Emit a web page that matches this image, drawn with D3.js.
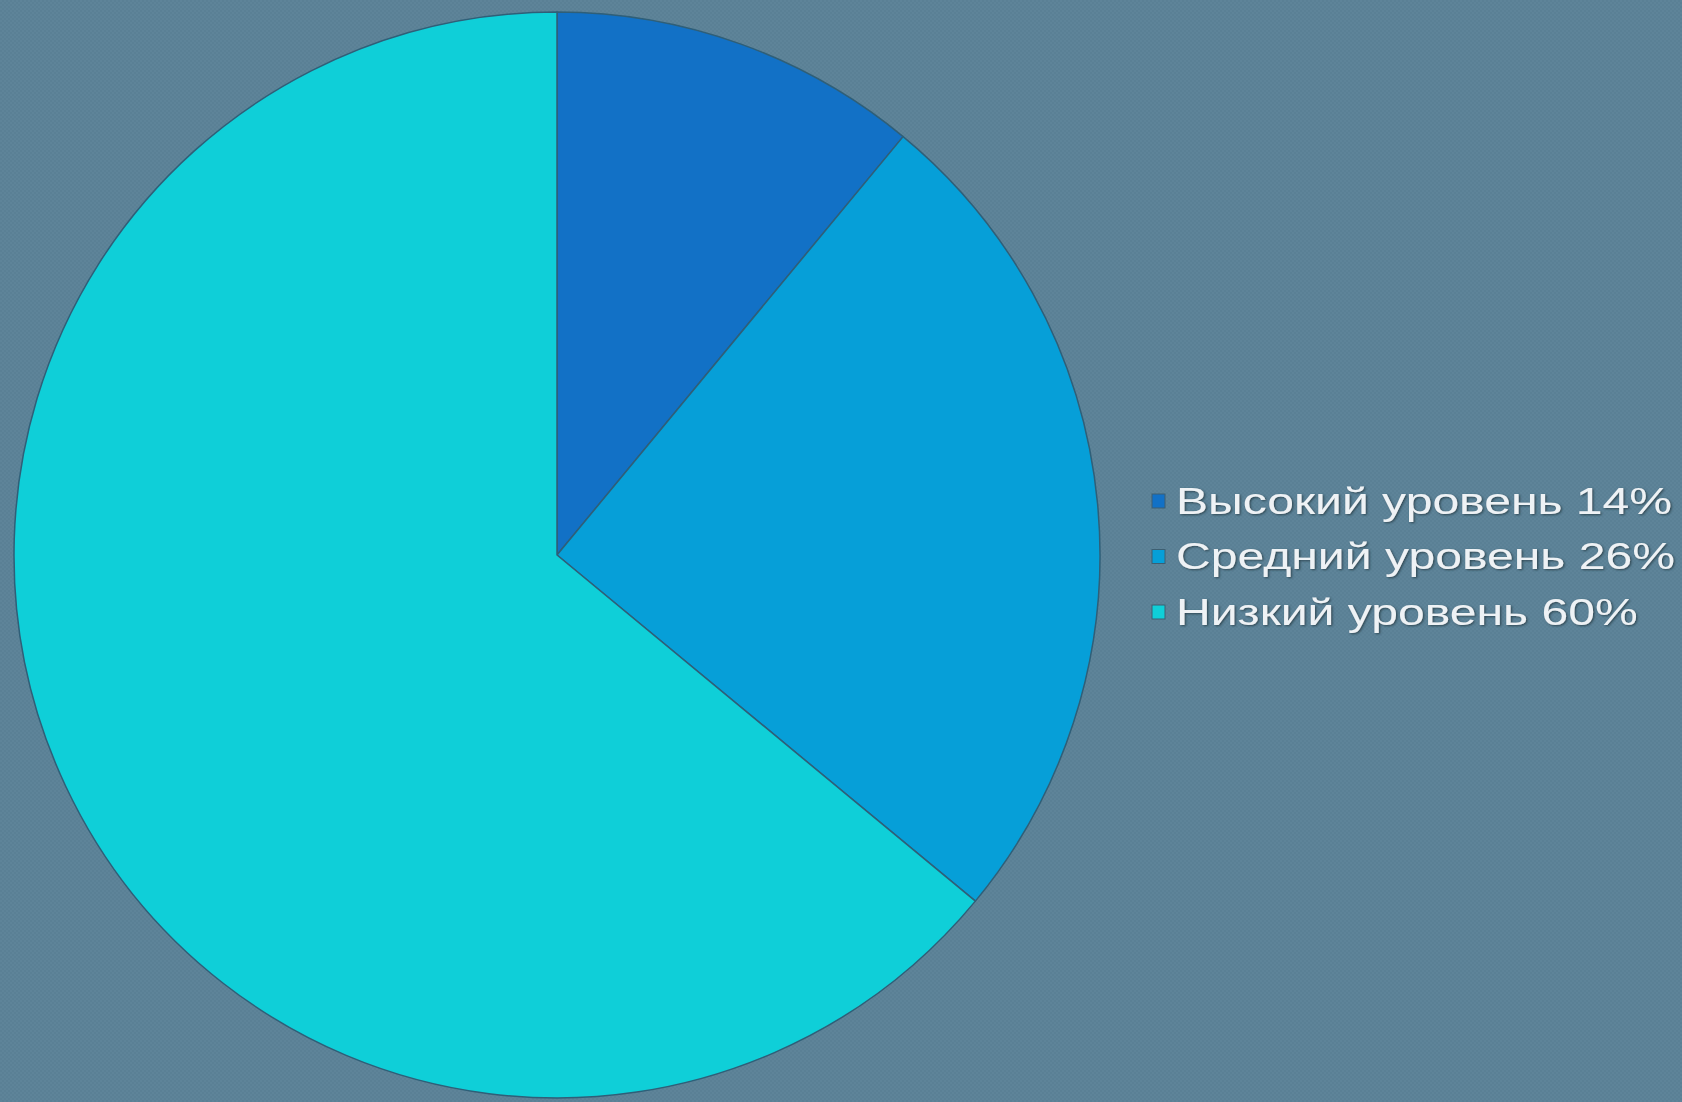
<!DOCTYPE html>
<html>
<head>
<meta charset="utf-8">
<script src="https://cdn.jsdelivr.net/npm/d3@7"></script>
<style>
  html, body { margin: 0; padding: 0; background: #5a8095; overflow: hidden; }
  svg { display: block; }
</style>
</head>
<body>
<script>
// slice sizes as drawn in the picture (the legend texts carry their own numbers)
const categories = ["Высокий", "Средний", "Низкий"];
const values = [11, 25, 64];
const legendLabels = ["Высокий уровень 14%", "Средний уровень 26%", "Низкий уровень 60%"];
const colors = ["#1271c6", "#069fd8", "#0fcfd8"];

const width = 1682;
const height = 1102;
const cx = 557, cy = 555, radius = 543;

const svg = d3.select("body")
  .append("svg")
  .attr("width", width)
  .attr("height", height);

// faint checker texture of the background
const defs = svg.append("defs");
const pat = defs.append("pattern")
  .attr("id", "checker")
  .attr("width", 4).attr("height", 4)
  .attr("patternUnits", "userSpaceOnUse");
pat.append("rect").attr("width", 4).attr("height", 4).attr("fill", "#5a8095");
pat.append("rect").attr("width", 2).attr("height", 2).attr("fill", "#5e8499");
pat.append("rect").attr("x", 2).attr("y", 2).attr("width", 2).attr("height", 2).attr("fill", "#5e8499");

const shadow = defs.append("filter").attr("id", "txtShadow")
  .attr("x", "-5%").attr("y", "-20%").attr("width", "110%").attr("height", "140%");
shadow.append("feDropShadow")
  .attr("dx", 1).attr("dy", 1).attr("stdDeviation", 1)
  .attr("flood-color", "#2a3f4c").attr("flood-opacity", 0.9);

svg.append("rect")
  .attr("width", width).attr("height", height)
  .attr("fill", "url(#checker)");

const color = d3.scaleOrdinal().domain(categories).range(colors);

const pie = d3.pie().sort(null).value(d => d.value);
const arc = d3.arc().innerRadius(0).outerRadius(radius);

const data = categories.map((c, i) => ({ name: c, value: values[i] }));

const g = svg.append("g")
  .attr("transform", `translate(${cx},${cy})`);

g.selectAll("path")
  .data(pie(data))
  .enter()
  .append("path")
  .attr("d", arc)
  .attr("fill", d => color(d.data.name))
  .attr("stroke", "#2f5f78")
  .attr("stroke-width", 1.5)
  .attr("stroke-linejoin", "round");

// legend
const legendY = d3.scalePoint()
  .domain(categories)
  .range([501, 612]);

const legend = svg.append("g");

const item = legend.selectAll("g")
  .data(categories)
  .enter()
  .append("g")
  .attr("transform", d => `translate(1152,${legendY(d)})`);

item.append("rect")
  .attr("x", 0).attr("y", -7)
  .attr("width", 13).attr("height", 14)
  .attr("fill", d => color(d))
  .attr("stroke", "#3d5f72")
  .attr("stroke-width", 1);

// the legend text in the picture is drawn wide, so stretch it sideways
item.append("g")
  .attr("transform", "translate(24,0) scale(1.3,1)")
  .append("text")
  .attr("x", 0)
  .attr("y", 0)
  .attr("dy", "0.35em")
  .attr("fill", "#eef2f5")
  .attr("filter", "url(#txtShadow)")
  .style("font-family", "'Liberation Sans', Arial, sans-serif")
  .style("font-size", "37px")
  .text((d, i) => legendLabels[i]);
</script>
</body>
</html>
